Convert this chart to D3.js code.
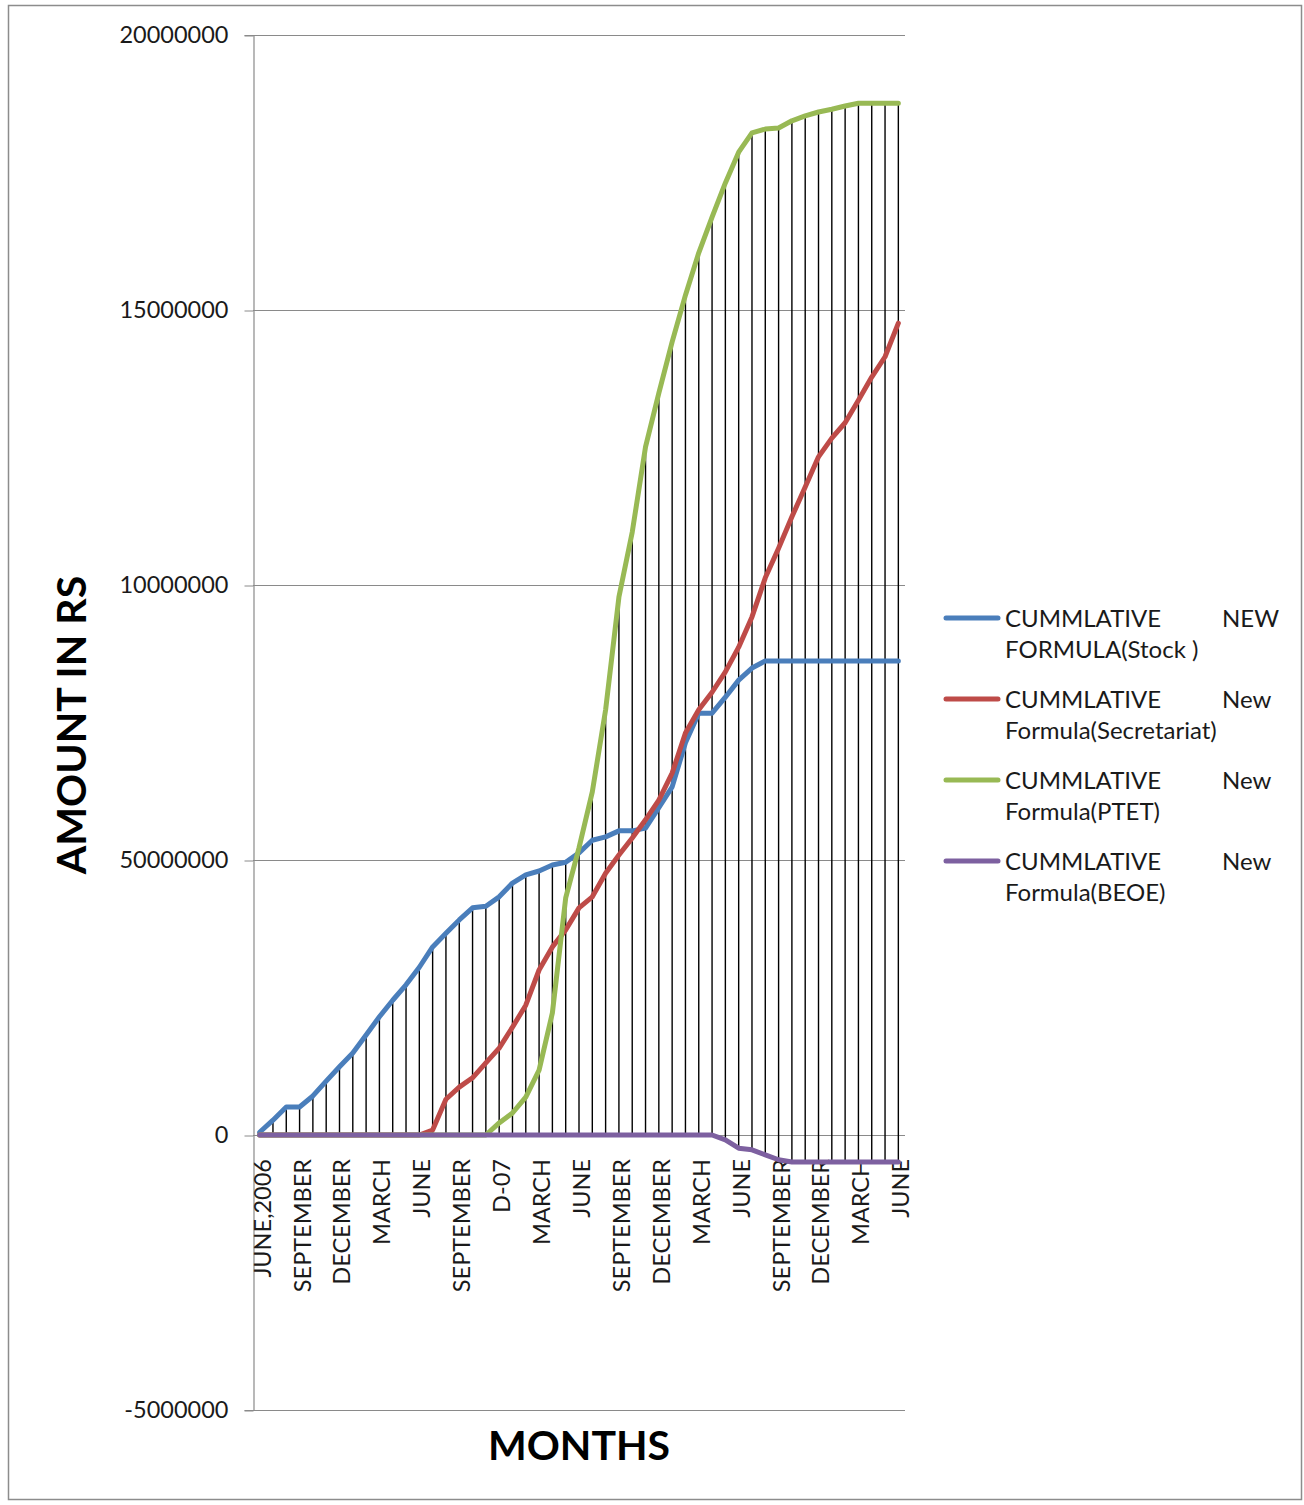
<!DOCTYPE html>
<html>
<head>
<meta charset="utf-8">
<script src="https://cdn.jsdelivr.net/npm/d3@7"></script>
<style>
  html, body { margin: 0; padding: 0; background: #fff; }
  svg { display: block; font-family: Lato, "Open Sans", sans-serif; }
</style>
</head>
<body>
<svg id="chart" width="1304" height="1505"></svg>
<script>
// Monthly categories, June 2006 through June 2010
const months = [
  "JUNE,2006", "JULY", "AUGUST", "SEPTEMBER", "OCTOBER", "NOVEMBER", "DECEMBER",
  "JANUARY", "FEBRUARY", "MARCH", "APRIL", "MAY", "JUNE",
  "JULY", "AUGUST", "SEPTEMBER", "OCTOBER", "NOVEMBER", "D-07",
  "JANUARY", "FEBRUARY", "MARCH", "APRIL", "MAY", "JUNE",
  "JULY", "AUGUST", "SEPTEMBER", "OCTOBER", "NOVEMBER", "DECEMBER",
  "JANUARY", "FEBRUARY", "MARCH", "APRIL", "MAY", "JUNE",
  "JULY", "AUGUST", "SEPTEMBER", "OCTOBER", "NOVEMBER", "DECEMBER",
  "JANUARY", "FEBRUARY", "MARCH", "APRIL", "MAY", "JUNE"
];

// Cumulative amounts (Rs) per month
const stock = [
  50000, 270000, 510000, 510000, 710000, 980000, 1240000, 1490000, 1820000, 2150000,
  2450000, 2730000, 3050000, 3420000, 3670000, 3910000, 4130000, 4160000, 4330000, 4580000,
  4730000, 4800000, 4910000, 4960000, 5130000, 5360000, 5420000, 5530000, 5530000, 5580000,
  5950000, 6330000, 7130000, 7670000, 7670000, 7960000, 8270000, 8490000, 8620000, 8620000,
  8620000, 8620000, 8620000, 8620000, 8620000, 8620000, 8620000, 8620000, 8620000
];
const secretariat = [
  0, 0, 0, 0, 0, 0, 0, 0, 0, 0,
  0, 0, 0, 90000, 650000, 870000, 1040000, 1310000, 1580000, 1960000,
  2360000, 3000000, 3420000, 3730000, 4130000, 4330000, 4760000, 5090000, 5400000, 5730000,
  6090000, 6580000, 7310000, 7730000, 8050000, 8420000, 8870000, 9420000, 10130000, 10670000,
  11240000, 11780000, 12330000, 12670000, 12950000, 13360000, 13780000, 14150000, 14760000
];
const ptet = [
  0, 0, 0, 0, 0, 0, 0, 0, 0, 0,
  0, 0, 0, 0, 0, 0, 0, 0, 220000, 400000,
  690000, 1180000, 2220000, 4310000, 5220000, 6240000, 7730000, 9780000, 10960000, 12510000,
  13490000, 14420000, 15270000, 16040000, 16690000, 17310000, 17870000, 18220000, 18290000, 18310000,
  18440000, 18530000, 18600000, 18650000, 18710000, 18760000, 18760000, 18760000, 18760000
];
const beoe = [
  0, 0, 0, 0, 0, 0, 0, 0, 0, 0,
  0, 0, 0, 0, 0, 0, 0, 0, 0, 0,
  0, 0, 0, 0, 0, 0, 0, 0, 0, 0,
  0, 0, 0, 0, 0, -90000, -240000, -270000, -360000, -450000,
  -490000, -490000, -490000, -490000, -490000, -490000, -490000, -490000, -490000
];

// Value axis ticks and their printed labels
const yTickValues = [-5000000, 0, 5000000, 10000000, 15000000, 20000000];
const yTickLabels = ["-5000000", "0", "50000000", "10000000", "15000000", "20000000"];

// Legend entries: first line, trailing word, second line
const seriesNames = [
  ["CUMMLATIVE", "NEW", "FORMULA(Stock )"],
  ["CUMMLATIVE", "New", "Formula(Secretariat)"],
  ["CUMMLATIVE", "New", "Formula(PTET)"],
  ["CUMMLATIVE", "New", "Formula(BEOE)"]
];
const seriesColors = ["#4a7ebb", "#be4b48", "#98b954", "#7d60a0"];
const seriesData = [stock, secretariat, ptet, beoe];

const svg = d3.select("#chart");

// Outer chart frame
svg.append("rect")
  .attr("x", 8.5).attr("y", 5.5)
  .attr("width", 1293).attr("height", 1494)
  .attr("fill", "#fff").attr("stroke", "#8c8c8c").attr("stroke-width", 1.5);

const plot = { left: 253, right: 905, top: 35, bottom: 1410 };

const x = d3.scalePoint()
  .domain(d3.range(months.length))
  .range([plot.left, plot.right])
  .padding(0.5);

const y = d3.scaleLinear()
  .domain([-5000000, 20000000])
  .range([plot.bottom, plot.top]);

// Horizontal gridlines
svg.append("g")
  .selectAll("line")
  .data(yTickValues)
  .join("line")
  .attr("x1", plot.left).attr("x2", plot.right)
  .attr("y1", d => y(d) + 0.5).attr("y2", d => y(d) + 0.5)
  .attr("stroke", "#8a8a8a").attr("stroke-width", 1);

// Value axis
const yAxis = svg.append("g")
  .attr("transform", `translate(${plot.left + 0.5},0)`)
  .call(d3.axisLeft(y)
    .tickValues(yTickValues)
    .tickFormat((d, i) => yTickLabels[i])
    .tickSize(9)
    .tickPadding(16));
yAxis.select(".domain").attr("stroke", "#8a8a8a").attr("stroke-width", 1.2);
yAxis.selectAll(".tick line").attr("stroke", "#8a8a8a").attr("transform", "translate(0,0.5)");
yAxis.selectAll(".tick text")
  .attr("font-size", 23.5)
  .attr("font-family", "Lato, 'Open Sans', sans-serif")
  .attr("fill", "#1a1a1a");

// Category axis along the zero line, labelled every third month
const xAxis = svg.append("g")
  .attr("transform", `translate(0,${y(0)})`)
  .call(d3.axisBottom(x)
    .tickValues(d3.range(0, months.length, 3))
    .tickFormat(i => months[i])
    .tickSize(0));
xAxis.select(".domain").remove();
xAxis.selectAll(".tick text")
  .attr("font-size", 23.5)
  .attr("font-family", "Lato, 'Open Sans', sans-serif")
  .attr("fill", "#1a1a1a")
  .attr("text-anchor", "end")
  .attr("y", 0)
  .attr("dy", "0.36em")
  .attr("transform", "translate(2,24) rotate(-90)");

// Drop lines from the highest to the lowest series value each month
svg.append("g")
  .selectAll("line")
  .data(months.map((m, i) => {
    const vals = seriesData.map(s => s[i]);
    return { i, hi: d3.max(vals), lo: d3.min(vals) };
  }))
  .join("line")
  .attr("x1", d => x(d.i)).attr("x2", d => x(d.i))
  .attr("y1", d => y(d.hi)).attr("y2", d => y(d.lo))
  .attr("stroke", "#000").attr("stroke-width", 1.4);

// Series lines
const line = d3.line()
  .x((d, i) => x(i))
  .y(d => y(d));

svg.append("g")
  .selectAll("path")
  .data(seriesData)
  .join("path")
  .attr("d", d => line(d))
  .attr("fill", "none")
  .attr("stroke", (d, i) => seriesColors[i])
  .attr("stroke-width", 5)
  .attr("stroke-linejoin", "round")
  .attr("stroke-linecap", "round");

// Axis titles
svg.append("text")
  .attr("transform", "translate(86,725) rotate(-90)")
  .attr("text-anchor", "middle")
  .attr("font-size", 41)
  .attr("font-weight", "bold")
  .attr("fill", "#000")
  .text("AMOUNT IN RS");

svg.append("text")
  .attr("x", 579).attr("y", 1460)
  .attr("text-anchor", "middle")
  .attr("font-size", 41)
  .attr("font-weight", "bold")
  .attr("fill", "#000")
  .text("MONTHS");

// Legend
const legend = svg.append("g")
  .selectAll("g")
  .data(seriesNames)
  .join("g")
  .attr("transform", (d, i) => `translate(0,${618 + i * 81})`);

legend.append("line")
  .attr("x1", 946).attr("x2", 998)
  .attr("y1", 0).attr("y2", 0)
  .attr("stroke", (d, i) => seriesColors[i])
  .attr("stroke-width", 5)
  .attr("stroke-linecap", "round");

legend.append("text")
  .attr("x", 1005).attr("y", 0).attr("dy", "0.36em")
  .attr("font-size", 24).attr("fill", "#1a1a1a")
  .text(d => d[0]);

legend.append("text")
  .attr("x", 1222).attr("y", 0).attr("dy", "0.36em")
  .attr("font-size", 24).attr("fill", "#1a1a1a")
  .text(d => d[1]);

legend.append("text")
  .attr("x", 1005).attr("y", 31).attr("dy", "0.36em")
  .attr("font-size", 24).attr("fill", "#1a1a1a")
  .text(d => d[2]);
</script>
</body>
</html>
